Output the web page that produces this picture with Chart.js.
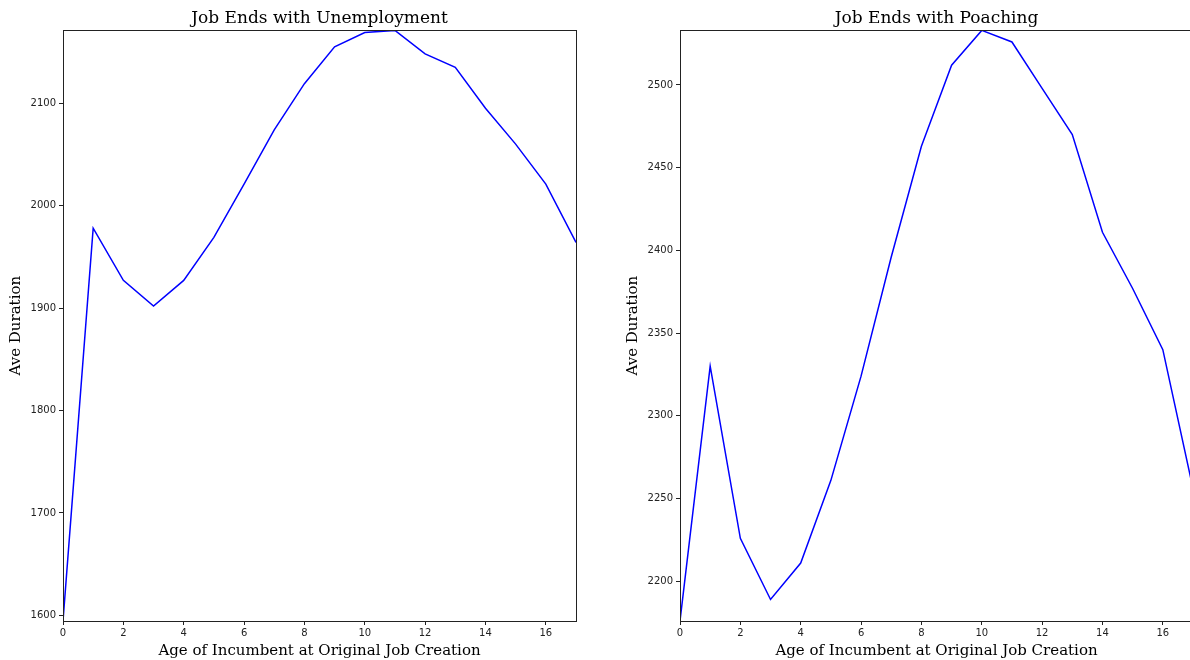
<!DOCTYPE html>
<html>
<head>
<meta charset="utf-8" />
<title>Job Ends</title>
<script src="https://cdn.jsdelivr.net/npm/chart.js@4.4.1/dist/chart.umd.min.js"></script>
<style>
  html, body { margin: 0; padding: 0; background: #fff; overflow: hidden; width: 1190px; height: 660px; }
  #left  { position: absolute; left: 0;   top: 0; width: 600px; height: 660px; }
  #right { position: absolute; left: 600px; top: 0; width: 620px; height: 660px; }
</style>
</head>
<body>
<div id="left"><canvas id="chartLeft"></canvas></div>
<div id="right"><canvas id="chartRight"></canvas></div>

<script>
// age of incumbent at original job creation
var ages = [0, 1, 2, 3, 4, 5, 6, 7, 8, 9, 10, 11, 12, 13, 14, 15, 16, 17];
// average duration, job ends with unemployment
var unemployment = [1594.5, 1978, 1927, 1902, 1927, 1969, 2021, 2074, 2119, 2155, 2169, 2171, 2148, 2135, 2095, 2060, 2021, 1964];
// average duration, job ends with poaching
var poaching = [2176, 2330, 2226, 2189, 2211, 2261, 2324, 2396, 2463, 2512, 2533, 2526, 2498, 2470, 2411, 2377, 2340, 2256];

var xTickStep = 2;
var leftYStep = 100;
var rightYStep = 50;

// matplotlib-like box round the axes
var framePlugin = {
  id: 'frame',
  afterDraw: function(chart) {
    var a = chart.chartArea, ctx = chart.ctx;
    ctx.save();
    ctx.strokeStyle = '#222';
    ctx.lineWidth = 1;
    ctx.strokeRect(Math.round(a.left) + 0.5, Math.round(a.top) + 0.5,
                   Math.round(a.right - a.left), Math.round(a.bottom - a.top));
    ctx.restore();
  }
};

function plain(v) { return String(v); }

function makeChart(id, title, values, yStep, pad, yWidth) {
  var pts = ages.map(function(x, i) { return {x: x, y: values[i]}; });
  return new Chart(document.getElementById(id), {
    type: 'line',
    data: {
      datasets: [{
        data: pts,
        borderColor: '#0000ff',
        borderWidth: 1.5,
        pointRadius: 0,
        tension: 0,
        fill: false
      }]
    },
    options: {
      responsive: true,
      maintainAspectRatio: false,
      animation: false,
      layout: { padding: pad },
      plugins: {
        legend: { display: false },
        tooltip: { enabled: false },
        title: {
          display: true,
          text: title,
          fullSize: false,
          color: '#000',
          font: { family: 'DejaVu Serif', size: 17, weight: 'normal' },
          padding: { top: 8, bottom: 2 }
        }
      },
      scales: {
        x: {
          type: 'linear',
          min: ages[0],
          max: ages[ages.length - 1],
          afterFit: function(s) { s.height = 39; },
          grid: { display: true, drawOnChartArea: false, drawTicks: true, tickLength: 4, color: '#222' },
          border: { display: true, color: '#222' },
          ticks: {
            stepSize: xTickStep,
            includeBounds: false,
            padding: 2,
            color: '#222',
            maxRotation: 0,
            callback: plain,
            font: { family: 'DejaVu Sans', size: 10 }
          },
          title: {
            display: true,
            text: 'Age of Incumbent at Original Job Creation',
            color: '#000',
            font: { family: 'DejaVu Serif', size: 15 },
            padding: { top: 0, bottom: 0 }
          }
        },
        y: {
          min: Math.min.apply(null, values),
          max: Math.max.apply(null, values),
          afterFit: function(s) { s.width = yWidth; },
          grid: { display: true, drawOnChartArea: false, drawTicks: true, tickLength: 4, color: '#222' },
          border: { display: true, color: '#222' },
          ticks: {
            stepSize: yStep,
            includeBounds: false,
            padding: 3,
            color: '#222',
            callback: plain,
            font: { family: 'DejaVu Sans', size: 10 }
          },
          title: {
            display: true,
            text: 'Ave Duration',
            color: '#000',
            font: { family: 'DejaVu Serif', size: 15 },
            padding: { top: 2, bottom: 0 }
          }
        }
      }
    },
    plugins: [framePlugin]
  });
}

makeChart('chartLeft', 'Job Ends with Unemployment', unemployment, leftYStep,
          { left: 5, right: 24, top: 0, bottom: 0 }, 58);
makeChart('chartRight', 'Job Ends with Poaching', poaching, rightYStep,
          { left: 22, right: 27, top: 0, bottom: 0 }, 58);
</script>
</body>
</html>
